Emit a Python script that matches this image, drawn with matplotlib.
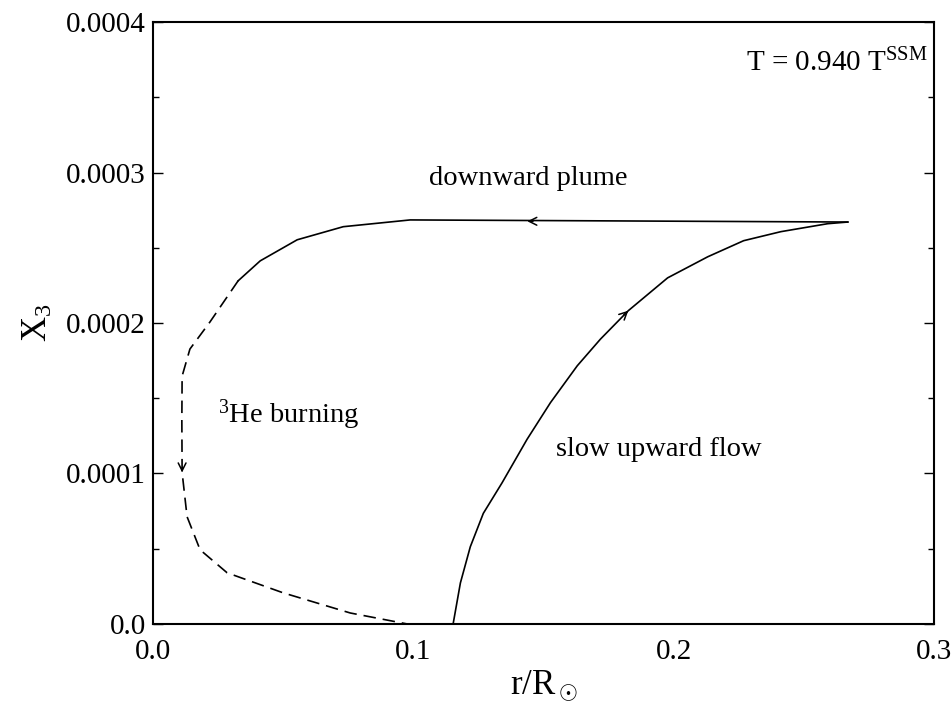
import matplotlib
matplotlib.use("Agg")
import matplotlib.pyplot as plt
from matplotlib.ticker import FixedLocator, MultipleLocator

plt.rcParams['font.family'] = ['Liberation Serif', 'DejaVu Serif']
plt.rcParams['mathtext.fontset'] = 'custom'
plt.rcParams['mathtext.rm'] = 'Liberation Serif'
plt.rcParams['mathtext.it'] = 'Liberation Serif:italic'
plt.rcParams['mathtext.bf'] = 'Liberation Serif:bold'
plt.rcParams['lines.scale_dashes'] = False

# Slow upward flow (solid)
up_r = [0.1153, 0.1181, 0.1219, 0.1269, 0.1341, 0.1437, 0.1527, 0.1630,
        0.1719, 0.1826, 0.1977, 0.2131, 0.2269, 0.2412, 0.2592, 0.2669]
up_x3 = [0.0, 0.0000273, 0.0000513, 0.0000735, 0.0000938, 0.0001227,
         0.0001471, 0.0001716, 0.0001893, 0.0002082, 0.0002300, 0.000244,
         0.0002547, 0.0002607, 0.000266, 0.0002671]

# Downward plume (solid part)
plume_r = [0.2669, 0.0988, 0.0731, 0.0554, 0.0412, 0.0327]
plume_x3 = [0.0002671, 0.0002685, 0.000264, 0.0002553, 0.0002413, 0.000228]

# 3He burning (dashed part)
burn_r = [0.0327, 0.0219, 0.0142, 0.0112, 0.0111, 0.0112, 0.0131, 0.0181,
          0.0285, 0.05, 0.0758, 0.0977]
burn_x3 = [0.000228, 0.0002007, 0.0001827, 0.0001647, 0.000135, 0.0001007,
           0.0000713, 0.0000493, 0.000034, 0.0000207, 0.0000073, 0.0]

xticks = [0.0, 0.1, 0.2, 0.3]
xtick_labels = ["0.0", "0.1", "0.2", "0.3"]
yticks = [0.0, 0.0001, 0.0002, 0.0003, 0.0004]
ytick_labels = ["0.0", "0.0001", "0.0002", "0.0003", "0.0004"]

fig = plt.figure(figsize=(9.53, 7.11), dpi=100)
ax = fig.add_axes([0.1605, 0.1224, 0.8195, 0.8466])

lw = 1.2
ax.plot(up_r, up_x3, color='black', lw=lw)
ax.plot(plume_r, plume_x3, color='black', lw=lw)
ax.plot(burn_r, burn_x3, color='black', lw=lw, linestyle=(0, (9, 5)))

arrow_kw = dict(arrowstyle='->', color='black', lw=1.1, mutation_scale=14,
                shrinkA=0, shrinkB=0)
# arrow on upward flow
ax.annotate('', xy=(0.1826, 0.0002082), xytext=(0.1808, 0.0002052), arrowprops=arrow_kw)
# arrow on plume (leftward)
ax.annotate('', xy=(0.1438, 0.0002676), xytext=(0.1460, 0.0002676), arrowprops=arrow_kw)
# arrow on dashed part (downward)
ax.annotate('', xy=(0.0112, 0.0001007), xytext=(0.0112, 0.000104), arrowprops=arrow_kw)

ax.set_xlim(0, 0.3)
ax.set_ylim(0, 0.0004)

ax.xaxis.set_major_locator(FixedLocator(xticks))
ax.set_xticklabels(xtick_labels)
ax.yaxis.set_major_locator(FixedLocator(yticks))
ax.set_yticklabels(ytick_labels)
ax.yaxis.set_minor_locator(MultipleLocator(0.00005))

ax.tick_params(axis='x', which='both', length=0, pad=11, labelsize=21)
ax.tick_params(axis='y', which='major', direction='in', length=7, width=1,
               left=True, right=True, labelsize=21, pad=5)
ax.tick_params(axis='y', which='minor', direction='in', length=4, width=1,
               left=True, right=True)

for s in ax.spines.values():
    s.set_linewidth(1.5)

ax.set_xlabel(r'r/R$_\odot$', fontsize=25, labelpad=2)
ax.set_ylabel(r'X$_3$', fontsize=25, labelpad=8)

ax.text(0.1442, 0.000296, 'downward plume', fontsize=20.5, ha='center', va='center')
ax.text(0.2977, 0.000373, r'T = 0.940 T$^{\mathrm{SSM}}$', fontsize=21, ha='right', va='center')
ax.text(0.025, 0.000139, r'$^{3}$He burning', fontsize=20.5, ha='left', va='center')
ax.text(0.155, 0.000116, 'slow upward flow', fontsize=20.5, ha='left', va='center')

fig.savefig('out.png', dpi=100)
